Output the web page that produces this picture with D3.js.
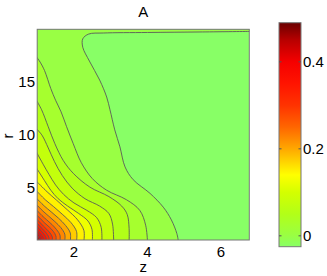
<!DOCTYPE html>
<html>
<head>
<meta charset="utf-8">
<script src="https://cdn.jsdelivr.net/npm/d3@7"></script>
<style>
  body { margin: 0; background: #fff; }
  svg text { font-family: "Liberation Sans", Arial, sans-serif; font-size: 15px; fill: #000; }
  .contour { fill: none; stroke: #5a5a5a; stroke-width: 0.9; }
  .frame { fill: none; stroke: #777; stroke-width: 1; }
</style>
</head>
<body>
<svg id="chart"></svg>
<script>
/* DATA */
var zTicks = [2, 4, 6];
var rTicks = [5, 10, 15];
var cbTicks = [0, 0.2, 0.4];
var zRange = [1, 6.77];
var rRange = [0.1, 20];
var valueRange = [-0.025, 0.49];

// colour map: value -> colour
var cmapValues = [-0.025, 0.0, 0.05, 0.1, 0.14, 0.2, 0.25, 0.3, 0.35, 0.4, 0.45, 0.49];
var cmapColors = ["#88ff66", "#99ff44", "#b2ff18", "#d4ff00", "#ffff00", "#ffa800", "#ff6600", "#ff3300", "#ff1400", "#f50000", "#b80000", "#6a0000"];

// contour levels and their traced lines, as [z, r] points
var levels = [0, 0.025, 0.05, 0.075, 0.1, 0.125, 0.15, 0.175, 0.2, 0.225, 0.25, 0.275, 0.3, 0.325, 0.35, 0.375, 0.4, 0.425, 0.45];

var line000 = [[4.84,0],[4.8,0.7],[4.65,2.0],[4.43,3.2],[4.07,4.5],[3.61,5.8],[3.39,7.0],[3.25,8.9],[3.11,10.5],[2.98,12.4],[2.89,13.6],[2.7,15.2],[2.42,17.0],[2.24,18.3],[2.24,19.1],[2.4,19.55],[2.8,19.65],[4,19.7],[5.5,19.75],[6.8,19.8]];
var line025 = [[4.0,0],[3.95,1.5],[3.79,2.9],[3.43,3.9],[2.89,4.8],[2.5,5.9],[2.2,7.4],[1.98,9.2],[1.8,10.8],[1.65,12.2],[1.5,13.3],[1.37,14.4],[1.2,16.1],[1.08,16.9],[0.98,17.4]];
var line050 = [[3.5,0],[3.5,1.2],[3.45,2.5],[3.3,3.3],[2.95,4.2],[2.43,5.1],[1.98,6.4],[1.71,7.6],[1.48,9.2],[1.3,10.8],[1.12,12.4],[0.98,13.3]];
var line075 = [[3.08,0],[3.05,1.6],[2.95,2.6],[2.7,3.3],[2.3,4.0],[1.95,5.0],[1.68,6.2],[1.47,7.5],[1.3,8.8],[1.13,10.0],[0.98,10.6]];
var line100 = [[2.76,0],[2.74,1.3],[2.62,2.2],[2.35,2.9],[2.0,3.6],[1.72,4.4],[1.5,5.3],[1.32,6.3],[1.17,7.2],[0.98,8.4]];
var line125 = [[2.5,0],[2.49,1.1],[2.38,1.9],[2.13,2.6],[1.83,3.3],[1.57,4.0],[1.37,4.8],[1.2,5.7],[0.98,6.9]];
var line150 = [[2.27,0],[2.27,1.0],[2.1,2.0],[1.82,2.95],[1.53,3.85],[1.27,4.65],[0.98,5.65]];
var line175 = [[2.07,0],[2.07,0.9],[1.92,1.74],[1.68,2.54],[1.45,3.24],[1.22,3.9],[0.98,4.75]];
var line200 = [[1.9,0],[1.9,0.76],[1.77,1.48],[1.58,2.16],[1.38,2.76],[1.19,3.32],[0.98,4.05]];
var line225 = [[1.75,0],[1.75,0.65],[1.645,1.26],[1.48,1.84],[1.315,2.35],[1.16,2.82],[0.98,3.45]];
var line250 = [[1.62,0],[1.62,0.55],[1.53,1.07],[1.4,1.57],[1.26,2.0],[1.13,2.41],[0.98,2.95]];
var line275 = [[1.51,0],[1.51,0.47],[1.44,0.91],[1.33,1.32],[1.21,1.69],[1.11,2.03],[0.98,2.5]];
var line300 = [[1.41,0],[1.41,0.39],[1.35,0.76],[1.26,1.11],[1.17,1.41],[1.09,1.7],[0.98,2.1]];
var line325 = [[1.32,0],[1.32,0.32],[1.275,0.63],[1.205,0.92],[1.135,1.17],[1.07,1.41],[0.98,1.75]];
var line350 = [[1.245,0],[1.245,0.27],[1.21,0.52],[1.157,0.76],[1.103,0.97],[1.05,1.16],[0.98,1.45]];
var line375 = [[1.175,0],[1.175,0.21],[1.15,0.41],[1.112,0.59],[1.074,0.76],[1.037,0.91],[0.98,1.15]];
var line400 = [[1.115,0],[1.115,0.16],[1.1,0.31],[1.074,0.46],[1.048,0.59],[1.024,0.71],[0.98,0.9]];
var line425 = [[1.065,0],[1.06,0.2],[1.04,0.35],[1.02,0.48],[0.98,0.65]];
var line450 = [[1.03,0],[1.02,0.2],[0.98,0.42]];

var contourLines = [line000, line025, line050, line075, line100, line125, line150, line175, line200,
  line225, line250, line275, line300, line325, line350, line375, line400, line425, line450];


/* SETUP */
var width = 327;
var height = 276;

var x = d3.scaleLinear().domain(zRange).range([37.2, 249.3]);
var y = d3.scaleLinear().domain(rRange).range([240, 29.3]);
var cb = d3.scaleLinear().domain(valueRange).range([246.7, 22.7]);
var color = d3.scaleLinear().domain(cmapValues).range(cmapColors).clamp(true);

var svg = d3.select("#chart")
  .attr("width", width)
  .attr("height", height);

svg.append("defs").append("clipPath")
  .attr("id", "plot-clip")
  .append("rect")
  .attr("x", x(zRange[0]))
  .attr("y", y(rRange[1]))
  .attr("width", x(zRange[1]) - x(zRange[0]))
  .attr("height", y(rRange[0]) - y(rRange[1]));

var plot = svg.append("g").attr("clip-path", "url(#plot-clip)");

var lineGen = d3.line()
  .x(d => x(d[0]))
  .y(d => y(d[1]))
  .curve(d3.curveCatmullRom.alpha(0.5));

/* FILLED BANDS */
// base band (below the lowest level)
plot.append("rect")
  .attr("x", x(zRange[0]))
  .attr("y", y(rRange[1]))
  .attr("width", x(zRange[1]) - x(zRange[0]))
  .attr("height", y(rRange[0]) - y(rRange[1]))
  .attr("fill", color(valueRange[0]));

// each level: fill the region on the corner side of its line
contourLines.forEach(function(pts, i) {
  var closing;
  if (i === 0) {
    // outermost line wraps around across the top
    closing = [[6.8, 20.5], [0.98, 20.5], [0.98, -0.5], [pts[0][0], -0.5]];
  } else {
    closing = [[0.98, -0.5], [pts[0][0], -0.5]];
  }
  var d = lineGen(pts) + closing.map(p => "L" + x(p[0]) + "," + y(p[1])).join("") + "Z";
  plot.append("path")
    .attr("d", d)
    .attr("fill", color(levels[i]));
});

/* CONTOUR LINES */
plot.selectAll("path.contour")
  .data(contourLines)
  .enter()
  .append("path")
  .attr("class", "contour")
  .attr("d", lineGen);

/* FRAME AND AXES */
svg.append("rect")
  .attr("class", "frame")
  .attr("x", x(zRange[0]))
  .attr("y", y(rRange[1]))
  .attr("width", x(zRange[1]) - x(zRange[0]))
  .attr("height", y(rRange[0]) - y(rRange[1]));

svg.append("g")
  .selectAll("text")
  .data(zTicks)
  .enter()
  .append("text")
  .attr("x", d => x(d))
  .attr("y", 257)
  .attr("text-anchor", "middle")
  .text(d => d);

svg.append("g")
  .selectAll("text")
  .data(rTicks)
  .enter()
  .append("text")
  .attr("x", 35)
  .attr("y", d => y(d))
  .attr("dy", "0.35em")
  .attr("text-anchor", "end")
  .text(d => d);

svg.append("text")
  .attr("x", 143.3)
  .attr("y", 17)
  .attr("text-anchor", "middle")
  .text("A");

svg.append("text")
  .attr("x", 143.3)
  .attr("y", 272)
  .attr("text-anchor", "middle")
  .text("z");

svg.append("text")
  .attr("transform", "translate(13,136) rotate(-90)")
  .attr("text-anchor", "middle")
  .text("r");

/* COLORBAR */
var cbX = 279, cbW = 22;
var grad = svg.select("defs").append("linearGradient")
  .attr("id", "cb-grad")
  .attr("x1", 0).attr("y1", 1)
  .attr("x2", 0).attr("y2", 0);

var span = valueRange[1] - valueRange[0];
grad.selectAll("stop")
  .data(cmapValues)
  .enter()
  .append("stop")
  .attr("offset", d => ((d - valueRange[0]) / span * 100) + "%")
  .attr("stop-color", (d, i) => cmapColors[i]);

svg.append("rect")
  .attr("x", cbX)
  .attr("y", cb(valueRange[1]))
  .attr("width", cbW)
  .attr("height", cb(valueRange[0]) - cb(valueRange[1]))
  .attr("fill", "url(#cb-grad)")
  .attr("stroke", "#777")
  .attr("stroke-width", 1);

var cbTickG = svg.append("g");
cbTicks.forEach(function(t) {
  cbTickG.append("line")
    .attr("x1", cbX).attr("x2", cbX + 2.5)
    .attr("y1", cb(t)).attr("y2", cb(t))
    .attr("stroke", "#555");
  cbTickG.append("line")
    .attr("x1", cbX + cbW - 2.5).attr("x2", cbX + cbW)
    .attr("y1", cb(t)).attr("y2", cb(t))
    .attr("stroke", "#555");
  cbTickG.append("text")
    .attr("x", cbX + cbW + 2)
    .attr("y", cb(t))
    .attr("dy", "0.33em")
    .text(t === 0 ? "0" : t);
});
</script>
</body>
</html>
